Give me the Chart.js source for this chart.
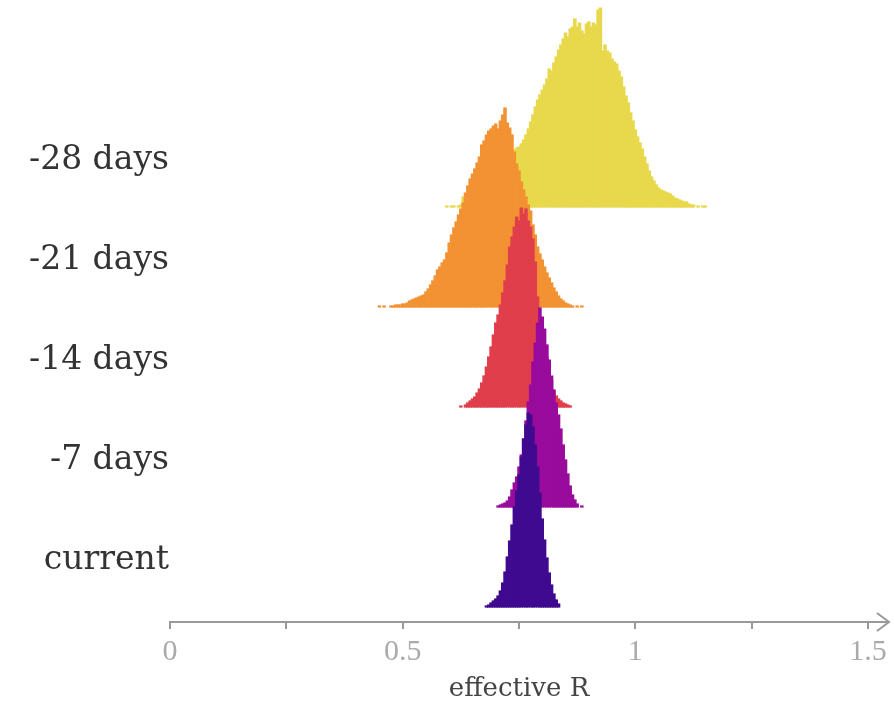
<!DOCTYPE html>
<html lang="en">
<head>
  <meta charset="UTF-8">
  <title>Effective R</title>
  <script src="https://cdn.jsdelivr.net/npm/chart.js"></script>
  <style>
    body {
      margin: 0;
      padding: 0;
      background: #fff;
    }

    #wrap {
      width: 894px;
      height: 711px;
      position: relative;
    }
  </style>
</head>
<body>
  <div id="wrap"><canvas id="ridgeChart"></canvas></div>

  <script>
    // rows from the bottom up
    const rowLabels = ['current', '-7 days', '-14 days', '-21 days', '-28 days'];
    const rowColors = ['#3f0a8f', '#990b9c', '#e03e4b', '#f39233', '#e8d84b'];

    // histograms: bins 0.005 wide, first bin centre per row
    const binWidth = 0.005;
    const binStarts = [0.680, 0.705, 0.625, 0.450, 0.595];

    const currentHeights = [0.01, 0.02, 0.04, 0.06, 0.08, 0.11, 0.16, 0.24, 0.35, 0.50, 0.66, 0.82, 1.00, 1.16, 1.32, 1.50,
      1.68, 1.82, 1.94, 1.92, 1.80, 1.62, 1.40, 1.14, 0.88, 0.67, 0.49, 0.34, 0.22, 0.13, 0.07, 0.03];

    const days7Heights = [0.01, 0.02, 0.03, 0.04, 0.06, 0.10, 0.17, 0.24, 0.30, 0.40, 0.52, 0.68, 0.86, 1.05, 1.22, 1.45,
      1.64, 1.84, 1.99, 1.90, 1.78, 1.62, 1.47, 1.31, 1.17, 1.04, 0.92, 0.78, 0.62, 0.47, 0.33, 0.21, 0.12, 0.07, 0.03,
      0.00, 0.01];

    const days14Heights = [0.01, 0.00, 0.02, 0.04, 0.06, 0.08, 0.10, 0.14, 0.18, 0.24, 0.31, 0.40, 0.50, 0.60, 0.72, 0.84,
      0.92, 1.02, 1.14, 1.26, 1.42, 1.60, 1.70, 1.80, 1.90, 1.86, 1.99, 1.93, 1.98, 1.86, 1.80, 1.68, 1.45, 1.10, 0.90,
      0.76, 0.62, 0.50, 0.38, 0.26, 0.16, 0.11, 0.08, 0.06, 0.04, 0.03, 0.02, 0.01];

    const days21Heights = [0.01, 0.00, 0.01, 0.00, 0.00, 0.01, 0.01, 0.02, 0.02, 0.02, 0.03, 0.03, 0.04, 0.06, 0.07, 0.08,
      0.09, 0.10, 0.11, 0.12, 0.15, 0.18, 0.22, 0.26, 0.31, 0.37, 0.40, 0.44, 0.47, 0.54, 0.64, 0.72, 0.79, 0.85, 0.92,
      0.98, 1.04, 1.14, 1.21, 1.28, 1.33, 1.38, 1.44, 1.50, 1.62, 1.66, 1.72, 1.76, 1.78, 1.81, 1.83, 1.78, 1.86, 1.92,
      1.99, 1.84, 1.79, 1.72, 1.55, 1.43, 1.36, 1.25, 1.17, 1.10, 1.02, 0.96, 0.82, 0.72, 0.60, 0.53, 0.47, 0.40, 0.34,
      0.29, 0.24, 0.19, 0.15, 0.11, 0.08, 0.06, 0.04, 0.03, 0.02, 0.01, 0.00, 0.01, 0.00, 0.01];

    const days28Heights = [0.01, 0.00, 0.01, 0.01, 0.00, 0.01, 0.02, 0.10, 0.06, 0.10, 0.13, 0.16, 0.19, 0.22, 0.25, 0.28,
      0.31, 0.34, 0.37, 0.40, 0.42, 0.44, 0.46, 0.48, 0.50, 0.52, 0.54, 0.55, 0.56, 0.57, 0.59, 0.60, 0.63, 0.67, 0.72,
      0.78, 0.85, 0.92, 1.00, 1.07, 1.12, 1.17, 1.22, 1.28, 1.38, 1.36, 1.44, 1.50, 1.57, 1.62, 1.68, 1.74, 1.70, 1.78,
      1.80, 1.88, 1.80, 1.84, 1.76, 1.73, 1.83, 1.85, 1.80, 1.84, 1.82, 1.97, 1.99, 1.56, 1.62, 1.56, 1.54, 1.48, 1.45,
      1.43, 1.36, 1.30, 1.20, 1.11, 1.04, 0.94, 0.86, 0.77, 0.70, 0.64, 0.58, 0.50, 0.43, 0.36, 0.30, 0.26, 0.22, 0.19,
      0.17, 0.16, 0.15, 0.14, 0.13, 0.11, 0.09, 0.08, 0.07, 0.06, 0.05, 0.05, 0.03, 0.02, 0.02, 0.00, 0.01, 0.00, 0.01,
      0.01];

    const rowHeights = [currentHeights, days7Heights, days14Heights, days21Heights, days28Heights];

    const xLabelled = [0, 0.5, 1, 1.5];
    const labelOffset = 0.47; // row label sits a bit under half a row above its baseline

    const datasets = rowLabels.map((label, row) => ({
      label: label,
      data: rowHeights[row]
        .map((h, i) => ({ x: +(binStarts[row] + i * binWidth).toFixed(3), y: [row, row + h] }))
        .filter(d => d.y[1] > d.y[0]),
      backgroundColor: rowColors[row],
      borderWidth: 0,
      inflateAmount: 0.6, // overlap neighbours so no seams show
      grouped: false,
      barPercentage: 1,
      categoryPercentage: 1
    }));

    // arrow head at the end of the x axis
    const axisArrow = {
      id: 'axisArrow',
      afterDraw(chart) {
        const ctx = chart.ctx;
        const xs = chart.scales.x;
        const y = xs.top;
        ctx.save();
        ctx.strokeStyle = '#999';
        ctx.lineWidth = 2;
        ctx.beginPath();
        ctx.moveTo(xs.right, y);
        ctx.lineTo(xs.right + 21, y);
        ctx.moveTo(xs.right + 9, y - 9);
        ctx.lineTo(xs.right + 21, y);
        ctx.lineTo(xs.right + 9, y + 9);
        ctx.stroke();
        ctx.restore();
      }
    };

    new Chart(document.getElementById('ridgeChart'), {
      type: 'bar',
      data: { datasets: datasets },
      plugins: [axisArrow],
      options: {
        responsive: true,
        maintainAspectRatio: false,
        animation: false,
        events: [],
        layout: { padding: { left: 0, right: 26, top: 0, bottom: 0 } },
        plugins: {
          legend: { display: false },
          tooltip: { enabled: false }
        },
        scales: {
          x: {
            type: 'linear',
            min: 0,
            max: 1.5,
            offset: false,
            border: { display: true, color: '#999', width: 2 },
            grid: {
              display: true,
              offset: false,
              drawOnChartArea: false,
              drawTicks: true,
              tickLength: 7,
              color: '#999',
              lineWidth: 2
            },
            ticks: {
              stepSize: 0.25,
              autoSkip: false,
              maxRotation: 0,
              padding: 5,
              color: '#aaa',
              font: { family: 'Liberation Serif', size: 30 },
              callback: (v) => xLabelled.includes(v) ? String(v) : ''
            },
            title: {
              display: true,
              text: 'effective R',
              color: '#444',
              padding: { top: 0, bottom: 6 },
              font: { family: 'DejaVu Serif', size: 26 }
            },
            afterFit: (scale) => { scale.height = 89; }
          },
          y: {
            type: 'linear',
            min: -0.15,
            max: 6.07,
            border: { display: false },
            grid: { display: false, drawTicks: false },
            afterBuildTicks: (scale) => {
              scale.ticks = rowLabels.map((_, i) => ({ value: i + labelOffset }));
            },
            ticks: {
              padding: 1,
              color: '#333',
              font: { family: 'DejaVu Serif', size: 33 },
              callback: (v, i) => rowLabels[i]
            },
            afterFit: (scale) => {
              scale.width = 170;
              scale.paddingTop = 0;
              scale.paddingBottom = 0;
            }
          }
        }
      }
    });
  </script>
</body>
</html>
